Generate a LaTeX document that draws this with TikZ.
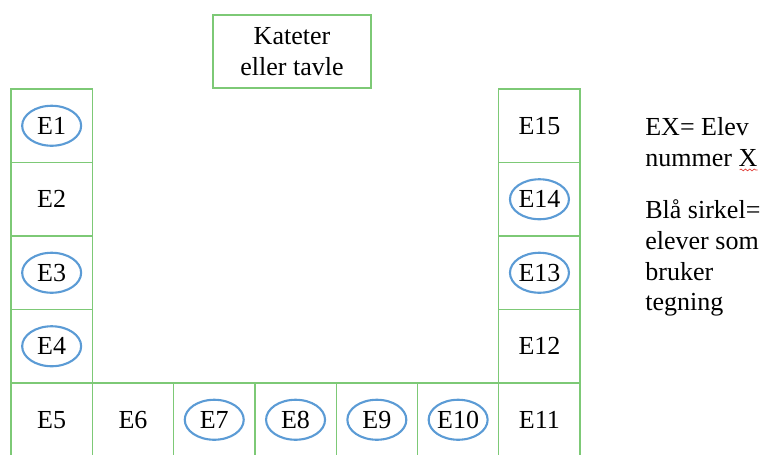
\documentclass[tikz,border=0pt]{standalone}
\usepackage{fontspec}
\setmainfont{Liberation Serif}
\usetikzlibrary{
  calc,
  decorations.pathmorphing,
  shapes.geometric
}
\definecolor{roomGreen}{HTML}{7DC976}
\definecolor{drawBlue}{HTML}{5B9BD5}
\definecolor{spellRed}{HTML}{E0403A}

\begin{document}
\begin{tikzpicture}[x=0.02cm,y=-0.02cm,
  font=\fontsize{14.8}{17.6}\selectfont,
  cell/.style={draw=roomGreen, line width=0.75pt, rectangle, inner sep=0pt,
    minimum width=1.626cm, minimum height=1.47cm},
  ring/.style={draw=drawBlue, line width=1.2pt, ellipse, inner sep=0pt,
    minimum width=1.18cm, minimum height=0.8cm}]
  \useasboundingbox (0,0) rectangle (764,454);

  \node[cell, minimum width=3.16cm, minimum height=1.46cm, align=center]
    (kateter) at (292,51.5) {Kateter\\eller tavle};

  % left column, E1 at the top
  \foreach \i/\r in {1/0,2/1,3/2,4/3,5/4}
    \node[cell] (e\i) at (51.65,125.75+73.5*\r) {E\i};
  % bottom row
  \foreach \i/\c in {6/1,7/2,8/3,9/4,10/5,11/6}
    \node[cell] (e\i) at (51.65+81.3*\c,419.75) {E\i};
  % right column, E12 up to E15
  \foreach \i/\r in {12/3,13/2,14/1,15/0}
    \node[cell] (e\i) at (539.45,125.75+73.5*\r) {E\i};

  % pupils who draw
  \foreach \i in {1,3,4,7,8,9,10,13,14}
    \node[ring] (r\i) at (e\i) {};

  \node[anchor=north west, inner sep=0pt, align=left] (forklaring)
    at (645,117) {EX= Elev\\nummer X};
  \draw[spellRed, line width=0.4pt, decorate,
    decoration={snake, segment length=2.5pt, amplitude=0.5pt}]
    ($(forklaring.south east)+(-18,3)$) -- ($(forklaring.south east)+(0,3)$);
  \node[anchor=north west, inner sep=0pt, align=left] (sirkel)
    at (645,199) {Blå sirkel=\\elever som\\bruker\\tegning};
\end{tikzpicture}
\end{document}
